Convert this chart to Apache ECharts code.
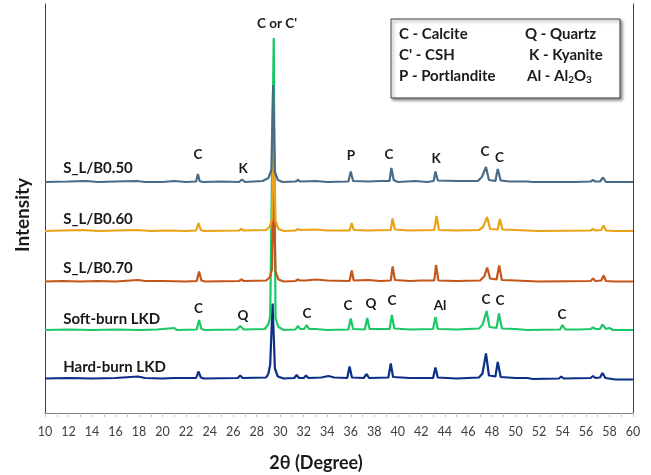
<!DOCTYPE html>
<html>
<head>
<meta charset="utf-8">
<script src="https://cdn.jsdelivr.net/npm/echarts@6/dist/echarts.min.js"></script>
<style>
  html, body { margin: 0; background: #fff; }
  #chart { width: 651px; height: 475px; }
</style>
</head>
<body>
<div id="chart"></div>
<script>
// sample names, top to bottom
const sampleNames = ['S_L/B0.50', 'S_L/B0.60', 'S_L/B0.70', 'Soft-burn LKD', 'Hard-burn LKD']
// vertical stacking offset of each pattern (arbitrary intensity units)
const baselines = [231, 182, 131.5, 83, 34.5]
const lineColors = ['#4a6b88', '#e8a317', '#c4561a', '#1cc866', '#0b2e86']

// [2theta, relative intensity]
const traceB050 = [[10,0],[12,0.5],[13.5,1],[14.5,0],[16,0.5],[17.8,1],[18.5,0],[20,0],[21,1],[22,0],[22.85,0.5],[23.0,8],[23.15,1],[23.4,0],[25,0.5],[26.5,0],[26.75,2.5],[27,0],[28.5,1],[29.0,4],[29.25,12],[29.4,97],[29.55,10],[29.8,2],[30.2,0],[31.3,0.5],[31.5,2],[31.7,0.5],[33,1],[34,0],[35.8,0.5],[36.0,10.5],[36.2,1],[37.5,0.5],[38.5,1],[39.3,1],[39.45,14],[39.65,2],[40,0],[41.5,1],[42.5,0],[43.05,1],[43.2,10.5],[43.4,1.5],[45,1],[46.8,1],[47.15,5],[47.3,3],[47.5,15],[47.75,2],[48.3,1],[48.5,13],[48.75,1.5],[49.5,0.5],[51,0.5],[51.5,0],[55,0],[56.4,0.5],[56.6,2],[56.8,0.5],[57.2,0.5],[57.45,4.5],[57.7,0],[58.5,0],[60,0]]
const traceB060 = [[10,0],[11.5,0.5],[13.3,1],[14.5,0],[17.8,1],[19,0],[20.5,0.5],[22,0],[22.85,0.5],[23.05,8],[23.25,1],[23.5,0],[26.5,0.5],[26.7,2],[26.9,0.5],[28.8,1],[29.1,4],[29.3,12],[29.45,98],[29.6,10],[29.85,2],[30.3,0],[31.3,0.5],[31.5,2],[31.7,1],[33,1.5],[34,0.5],[35.9,0.5],[36.08,8],[36.25,1],[37.5,0.5],[39.4,1],[39.55,12.5],[39.75,1.5],[41,0.5],[43.1,1],[43.3,15],[43.5,1],[45,0.5],[46.9,1],[47.25,4],[47.4,3],[47.6,14],[47.85,2],[48.5,1.5],[48.68,12],[48.9,1.5],[50,1],[51,0.5],[52,0],[56.4,0.5],[56.6,2],[56.8,0.5],[57.3,1],[57.5,5.5],[57.7,0.5],[58.5,0],[60,0]]
const traceB070 = [[10,0],[11.5,0.5],[13,0],[14.5,0.5],[16,0],[17.9,1.5],[18.5,0.5],[20,0.5],[22,0],[22.9,0.5],[23.1,10],[23.3,1],[23.6,0],[26.5,0.5],[26.7,2],[26.9,0.5],[28.8,1],[29.1,4],[29.3,12],[29.45,90],[29.6,10],[29.85,2],[30.3,0],[31.3,0.5],[31.5,2],[31.7,1],[32.2,1],[33,2],[34,1],[35.9,0.5],[36.08,11],[36.25,1],[37.5,1.5],[38.5,0.5],[39.4,1],[39.56,15],[39.75,1.5],[41,0.5],[42,1],[43.1,1],[43.25,16.5],[43.45,1],[45,0.5],[47,1],[47.35,5],[47.6,14],[47.85,3],[48.4,2],[48.62,16],[48.85,1.5],[50,1],[51,0.5],[52,0],[56.4,0.5],[56.6,3],[56.8,0.5],[57.3,1],[57.5,6],[57.7,0.5],[58.5,0],[60,0]]
const traceSoft = [[10,0],[12,0.5],[14,0],[16,0.5],[18,0],[19.5,0.5],[21,2],[21.2,0],[22.9,0.5],[23.1,10],[23.3,1],[23.6,0],[26.3,0.5],[26.6,4],[26.9,0.5],[28.7,1],[29.0,6],[29.15,14],[29.45,292],[29.6,12],[29.85,3],[30.3,0],[31.3,0.5],[31.5,4],[31.7,1],[32.05,1],[32.25,5],[32.45,1],[33,1],[34,0],[35.8,0.5],[36.0,11.5],[36.2,1],[37.2,0.5],[37.4,12],[37.6,1],[39.3,1],[39.5,15],[39.7,1.5],[41,0.5],[43.0,1],[43.2,13],[43.4,1],[45,0.5],[46.9,1.5],[47.2,5],[47.35,4],[47.55,19],[47.8,3],[48.4,2],[48.6,16.5],[48.85,1.5],[50,1],[51,0],[53.8,0.5],[54.0,5],[54.25,0.5],[55.5,0.5],[56.4,1],[56.6,2.5],[56.8,1],[57.2,1],[57.4,5.5],[57.7,1],[58,2],[58.3,0],[60,0]]
const traceHard = [[10,0],[12,0.5],[14,0],[16,0.5],[17.9,2],[18.5,0.5],[20,0],[21,0.5],[22.85,0.5],[23.05,7],[23.25,1],[23.5,0],[26.4,0.5],[26.6,3],[26.8,0.5],[28.8,1],[29.0,5],[29.15,14],[29.35,75],[29.55,10],[29.8,2],[30.3,0],[31.2,0.5],[31.4,3.5],[31.6,0.5],[32.0,0.5],[32.2,3],[32.4,0.5],[33.5,1],[34.1,2.5],[34.6,1],[35.7,0.5],[35.9,12],[36.1,1],[37.1,0.5],[37.35,4.5],[37.55,0.5],[39.2,1],[39.4,15],[39.6,1.5],[41,0.5],[43.0,0.5],[43.2,11],[43.4,1],[45,0],[46.9,1],[47.2,5],[47.35,4],[47.5,25],[47.75,3],[48.3,2],[48.5,16.5],[48.75,1.5],[50,0.5],[51,0.5],[51.5,-0.5],[53.7,0],[53.9,2],[54.1,0],[56.4,0.5],[56.6,2.5],[56.8,0.5],[57.2,1],[57.4,5.5],[57.65,0.5],[58.5,-1],[60,-1]]
const traces = [traceB050, traceB060, traceB070, traceSoft, traceHard]

// sample name labels: [2theta, intensity]
const nameLabelX = 11.55
const nameLabelY = [245, 194, 145, 94, 46]

// phase labels: [text, 2theta, intensity]
const mainPeakLabel = [["C or C'", 29.73, 389]]
const topRowLabels = [['C', 23.0, 258], ['K', 26.85, 244], ['P', 36.02, 257], ['C', 39.25, 258], ['K', 43.25, 254], ['C', 47.41, 261], ['C', 48.65, 255]]
const softRowLabels = [['C', 23.05, 104], ['Q', 26.84, 97], ['C', 32.28, 99], ['C', 35.77, 107], ['Q', 37.72, 109], ['C', 39.5, 112], ['Al', 43.59, 107], ['C', 47.5, 113], ['C', 48.69, 112], ['C', 53.96, 98]]

// key box text
const keyLeft = ['C - Calcite', "C' - CSH", 'P - Portlandite']
const keyRight = ['Q - Quartz', 'K - Kyanite', '{m|Al - Al}{s|2}{m|O}{s|3}']

const FONT = 'Lato'
const TEXT = '#1a1a1a'

const chart = echarts.init(document.getElementById('chart'))

const lineSeries = traces.map((t, i) => ({
  name: sampleNames[i],
  type: 'line',
  data: t.map(p => [p[0], p[1] + baselines[i]]),
  symbol: 'none',
  lineStyle: { color: lineColors[i], width: 2.2 },
  z: 2 + (traces.length - i),
  silent: true
}))

const labelSeries = (items, extra) => ({
  type: 'scatter',
  symbolSize: 0,
  silent: true,
  z: 20,
  itemStyle: { color: 'transparent', opacity: 1 },
  data: items.map(l => ({ name: l[0], value: [l[1], l[2]] })),
  label: Object.assign({
    show: true,
    position: 'inside',
    formatter: '{b}',
    color: TEXT,
    textBorderWidth: 0,
    fontFamily: FONT,
    fontWeight: 'bold',
    fontSize: 13.5
  }, extra || {})
})

const nameItems = sampleNames.map((n, i) => [n, nameLabelX, nameLabelY[i]])

const keyText = []
keyLeft.forEach((t, i) => {
  keyText.push({
    type: 'text', x: 8, y: 15 + i * 21,
    style: { text: t, font: 'bold 15px ' + FONT, fill: TEXT, verticalAlign: 'middle' }
  })
})
keyRight.forEach((t, i) => {
  keyText.push({
    type: 'text', x: [134, 138, 136][i], y: 15 + i * 21,
    style: {
      text: t, font: 'bold 15px ' + FONT, fill: TEXT, verticalAlign: 'middle',
      rich: {
        m: { fontSize: 15, fontWeight: 'bold', fontFamily: FONT, fill: TEXT, lineHeight: 18 },
        s: { fontSize: 10, fontWeight: 'bold', fontFamily: FONT, fill: TEXT, lineHeight: 10, verticalAlign: 'bottom' }
      }
    }
  })
})

const option = {
  animation: false,
  grid: { left: 45, right: 18, top: 4, bottom: 62 },
  xAxis: [
    {
      type: 'value', min: 10, max: 60, interval: 2,
      axisLine: { show: true, lineStyle: { color: '#c8c8c8', width: 1 } },
      axisTick: { show: true, length: 4, lineStyle: { color: '#c8c8c8' } },
      minorTick: { show: true, splitNumber: 2, length: 4, lineStyle: { color: '#c8c8c8' } },
      axisLabel: { color: '#404040', fontSize: 12.5, fontFamily: FONT, margin: 12 },
      splitLine: { show: false }
    },
    {
      type: 'value', position: 'top', min: 10, max: 60,
      axisLine: { show: true, lineStyle: { color: '#808080' } },
      axisTick: { show: false }, axisLabel: { show: false }, splitLine: { show: false }
    }
  ],
  yAxis: [
    {
      type: 'value', min: 0, max: 409,
      axisLine: { show: true, lineStyle: { color: '#404040' } },
      axisTick: { show: false }, axisLabel: { show: false }, splitLine: { show: false }
    },
    {
      type: 'value', position: 'right', min: 0, max: 409,
      axisLine: { show: true, lineStyle: { color: '#404040' } },
      axisTick: { show: false }, axisLabel: { show: false }, splitLine: { show: false }
    }
  ],
  series: [
    ...lineSeries,
    labelSeries(mainPeakLabel),
    labelSeries(topRowLabels),
    labelSeries(softRowLabels),
    labelSeries(nameItems, { position: 'right', distance: 0, fontSize: 15 })
  ],
  graphic: [
    {
      type: 'text', x: 23, y: 215, rotation: Math.PI / 2,
      style: { text: 'Intensity', font: 'bold 19px ' + FONT, fill: TEXT, align: 'center', verticalAlign: 'middle' }
    },
    {
      type: 'text', x: 316, y: 463,
      style: { text: '2θ (Degree)', font: 'bold 18px ' + FONT, fill: TEXT, align: 'center', verticalAlign: 'middle' }
    },
    {
      type: 'group', x: 391, y: 19,
      children: [
        {
          type: 'rect',
          shape: { x: 0, y: 0, width: 229, height: 79 },
          style: {
            fill: '#fff', stroke: '#404040', lineWidth: 1,
            shadowBlur: 3, shadowOffsetX: 2, shadowOffsetY: 2, shadowColor: 'rgba(0,0,0,0.45)'
          }
        },
        ...keyText
      ]
    }
  ]
}

chart.setOption(option)
</script>
</body>
</html>
